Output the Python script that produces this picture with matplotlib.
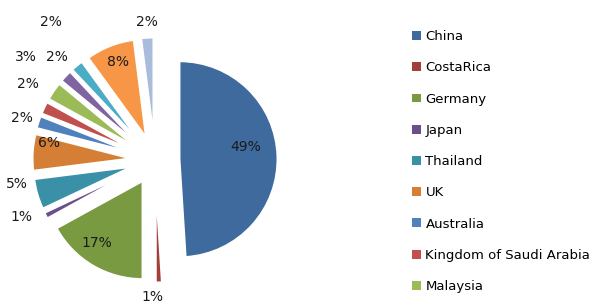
import numpy as np
import matplotlib
matplotlib.use("Agg")
import matplotlib.pyplot as plt
from matplotlib.patches import Patch

# Données
pays = ["China", "CostaRica", "Germany", "Japan", "Thailand", "UK",
        "Australia", "Kingdom of Saudi Arabia", "Malaysia",
        "Other 1", "Other 2", "Other 3", "Other 4"]
parts = [49, 1, 17, 1, 5, 6, 2, 2, 3, 2, 2, 8, 2]
etiquettes = ["49%", "1%", "17%", "1%", "5%", "6%", "2%", "2%", "3%", "2%", "2%", "8%", "2%"]
n_legende = 9  # la légende est coupée après Malaysia

couleurs = ["#3E6A9E", "#A33F3B", "#7A9A42", "#6A4F8A", "#3A90A6", "#D47F35",
            "#4F81BD", "#C0504D", "#9BBB59", "#8064A2", "#4BACC6", "#F79646", "#A9BCDB"]

# Position des étiquettes (rayon, angle en degrés)
lab_r = [0.93, 1.40, 1.03, 1.48, 1.43, 1.09, 1.42, 1.51, 1.69, 1.45, 1.76, 1.07, 1.41]
lab_a = [8, -91, -125, -157, -170, 171, 162.5, 149, 141.5, 133.5, 127, 110.7, 93.3]

fig = plt.figure(figsize=(5.97, 3.03), dpi=100)
W, H = 597, 303
R = 98.0
cx, cy = 155, 160
half = 140
ax = fig.add_axes([(cx - half) / W, (H - cy - half) / H, 2 * half / W, 2 * half / H])

ax.pie(parts, colors=couleurs, startangle=90, counterclock=False,
       explode=[0.25] * len(parts),
       wedgeprops=dict(edgecolor="white", linewidth=1.4))

for txt, r, a in zip(etiquettes, lab_r, lab_a):
    ax.text(r * np.cos(np.radians(a)), r * np.sin(np.radians(a)), txt,
            ha="center", va="center", fontsize=10, color="#1a1a1a")

L = half / R
ax.set_xlim(-L, L)
ax.set_ylim(-L, L)
ax.set_aspect("equal")
ax.axis("off")

handles = [Patch(facecolor=c, edgecolor="none") for c in couleurs[:n_legende]]
fig.legend(handles, pays[:n_legende], loc="upper left",
           bbox_to_anchor=(407 / W, 1 - 25 / H), frameon=False,
           fontsize=9.5, handlelength=0.65, handleheight=0.65, handletextpad=0.35,
           labelspacing=1.38, borderaxespad=0)

fig.savefig("out.png", dpi=100)
